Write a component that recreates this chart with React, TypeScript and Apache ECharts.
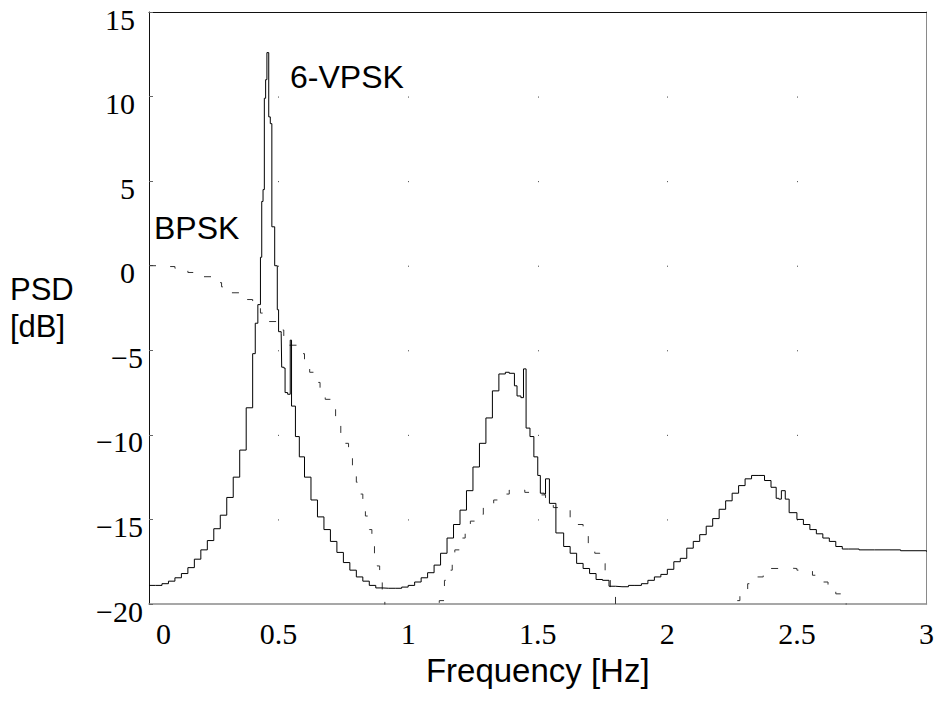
import React, { useEffect, useRef } from "react";
import * as echarts from "echarts";

// 6-VPSK power spectral density (solid staircase)
const vpskFreq = [
  0, 0.025, 0.05, 0.075, 0.1, 0.125, 0.15, 0.175, 0.2, 0.225, 0.25, 0.275, 0.3, 0.325, 0.35, 0.375,
  0.4, 0.41, 0.42, 0.43, 0.435, 0.44, 0.445, 0.45, 0.455, 0.462, 0.468, 0.474, 0.485, 0.495, 0.5,
  0.51, 0.512, 0.52, 0.525, 0.535, 0.545, 0.55, 0.565, 0.58, 0.6, 0.625, 0.65, 0.675, 0.7, 0.725,
  0.75, 0.775, 0.8, 0.825, 0.85, 0.875, 0.9, 0.925, 0.95, 0.975, 1.0, 1.025, 1.05, 1.075, 1.1,
  1.125, 1.15, 1.175, 1.2, 1.225, 1.25, 1.275, 1.3, 1.325, 1.35, 1.375, 1.39, 1.41, 1.42, 1.435,
  1.445, 1.455, 1.47, 1.485, 1.5, 1.51, 1.525, 1.53, 1.545, 1.57, 1.6, 1.625, 1.65, 1.675, 1.7,
  1.725, 1.75, 1.775, 1.8, 1.825, 1.85, 1.875, 1.9, 1.925, 1.95, 1.975, 2.0, 2.025, 2.05, 2.075,
  2.1, 2.125, 2.15, 2.175, 2.2, 2.225, 2.25, 2.275, 2.3, 2.325, 2.35, 2.375, 2.4, 2.42, 2.43,
  2.44, 2.455, 2.47, 2.5, 2.525, 2.55, 2.575, 2.6, 2.625, 2.65, 2.675, 2.7, 2.74, 2.8, 2.9, 3.0,
];
const vpskPsd = [
  -18.9, -18.9, -18.8, -18.65, -18.45, -18.2, -17.85, -17.35, -16.8, -16.25, -15.55, -14.75, -13.7,
  -12.5, -10.9, -8.4, -5.2, -3.4, -2.3, 0.5, 3.8, 4.5, 9.9, 11.0, 12.6, 8.8, 8.4, 2.3, 0.0, -2.6,
  -3.9, -4.0, -6.0, -6.05, -7.5, -7.6, -4.4, -8.3, -10.1, -11.3, -12.5, -13.85, -14.85, -15.6,
  -16.3, -16.95, -17.55, -18.0, -18.4, -18.65, -18.9, -19.05, -19.07, -19.07, -19.07, -19.0, -18.9,
  -18.7, -18.45, -18.15, -17.7, -17.0, -16.1, -15.3, -14.45, -13.3, -11.9, -10.5, -9.0, -7.4, -6.4,
  -6.3, -6.36, -7.1, -7.7, -7.8, -6.1, -9.6, -10.1, -11.3, -12.4, -13.45, -13.5, -12.6, -14.05,
  -15.8, -16.6, -17.0, -17.6, -17.9, -18.2, -18.55, -18.6, -18.95, -18.98, -18.98, -18.9, -18.9,
  -18.8, -18.6, -18.4, -18.25, -17.95, -17.5, -17.3, -16.7, -16.3, -15.9, -15.4, -14.95, -14.4,
  -13.9, -13.45, -13.0, -12.6, -12.4, -12.4, -12.7, -13.1, -13.75, -13.8, -13.3, -13.8, -14.6,
  -15.0, -15.3, -15.6, -15.85, -16.1, -16.3, -16.6, -16.75, -16.75, -16.8, -16.8, -16.85, -16.9,
];

// BPSK power spectral density (dashed staircase); values below -20 fall outside the plot
const bpskFreq = [
  0, 0.05, 0.1, 0.15, 0.2, 0.25, 0.28, 0.32, 0.36, 0.4, 0.43, 0.46, 0.49, 0.52, 0.54, 0.57, 0.6,
  0.62, 0.64, 0.66, 0.68, 0.7, 0.72, 0.74, 0.755, 0.77, 0.785, 0.8, 0.81, 0.825, 0.835, 0.85, 0.86,
  0.87, 0.88, 0.89, 0.9, 0.91, 0.95, 1.0, 1.05, 1.1, 1.12, 1.14, 1.155, 1.17, 1.18, 1.2, 1.22, 1.24,
  1.265, 1.29, 1.33, 1.36, 1.39, 1.42, 1.45, 1.5, 1.53, 1.56, 1.6, 1.625, 1.65, 1.675, 1.695, 1.72,
  1.74, 1.76, 1.78, 1.8, 1.82, 1.9, 2.0, 2.1, 2.2, 2.24, 2.26, 2.28, 2.31, 2.34, 2.37, 2.4, 2.43,
  2.46, 2.5, 2.53, 2.56, 2.59, 2.62, 2.65, 2.67, 2.69, 2.72, 2.8, 2.9, 3.0,
];
const bpskPsd = [
  0.0, -0.05, -0.15, -0.4, -0.65, -1.0, -1.25, -1.6, -2.0, -2.4, -2.8, -3.3, -3.8, -4.3, -4.7, -5.2,
  -5.75, -6.3, -6.9, -7.4, -7.9, -8.5, -9.2, -9.9, -10.5, -11.2, -12.0, -12.8, -13.5, -14.2, -14.8,
  -15.6, -16.4, -17.0, -17.75, -18.6, -19.6, -22, -26, -30, -27, -23, -19.8, -18.6, -18.0, -17.3,
  -16.8, -16.1, -15.6, -15.1, -14.7, -14.2, -13.85, -13.5, -13.26, -13.26, -13.4, -13.55, -13.9,
  -14.3, -14.45, -14.9, -15.3, -15.9, -16.4, -17.0, -17.6, -18.4, -19.3, -20.5, -23, -30, -33, -30,
  -23, -20.3, -19.8, -19.3, -18.8, -18.4, -18.1, -17.9, -17.87, -17.9, -18.0, -18.05, -18.3, -18.7,
  -19.0, -19.4, -19.8, -21, -25, -28, -26, -25,
];

const seriesNames = ["6-VPSK", "BPSK"];
const xAxisTitle = "Frequency [Hz]";
const yAxisTitle = "PSD\n[dB]";

const X_MIN = 0;
const X_MAX = 3;
const X_STEP = 0.5;
const Y_MIN = -20;
const Y_MAX = 15;
const Y_STEP = 5;

const GRID = { left: 149, top: 12, width: 781, height: 592 };

export default function App() {
  const ref = useRef<HTMLDivElement>(null);

  useEffect(() => {
    if (!ref.current) return;
    const chart = echarts.init(ref.current, undefined, { renderer: "svg" });
    const sans = "'Liberation Sans', Arial, sans-serif";
    const serif = "'Liberation Serif', 'Times New Roman', serif";
    const pxPerY = GRID.height / (Y_MAX - Y_MIN);
    const dotGap = pxPerY * Y_STEP - 1;

    const vpskData = vpskFreq.map((f, i) => [f, vpskPsd[i]]);
    const bpskData = bpskFreq.map((f, i) => [f, bpskPsd[i]]);

    chart.setOption({
      animation: false,
      backgroundColor: "#ffffff",
      grid: { ...GRID, containLabel: false },
      xAxis: [
        {
          type: "value",
          min: X_MIN,
          max: X_MAX,
          interval: X_STEP,
          name: xAxisTitle,
          nameLocation: "middle",
          nameGap: 50,
          nameTextStyle: { fontFamily: sans, fontSize: 33, color: "#000" },
          axisLine: { show: true, onZero: false, lineStyle: { color: "#8a8a8a", width: 1.5 } },
          axisTick: { show: false },
          axisLabel: {
            margin: 14,
            fontFamily: serif,
            fontSize: 30,
            color: "#000",
            alignMinLabel: "left",
            formatter: (v: number) => (v === 0 ? "{z|0}" : String(v)),
            rich: { z: { fontFamily: serif, fontSize: 30, color: "#000", padding: [0, 0, 0, 7] } },
          },
          splitLine: {
            show: true,
            lineStyle: { color: "#444", width: 1, type: [1, dotGap] },
          },
        },
        {
          type: "value",
          position: "top",
          min: X_MIN,
          max: X_MAX,
          axisLine: { show: true, onZero: false, lineStyle: { color: "#111", width: 1 } },
          axisTick: { show: false },
          axisLabel: { show: false },
          splitLine: { show: false },
        },
      ],
      yAxis: [
        {
          type: "value",
          min: Y_MIN,
          max: Y_MAX,
          interval: Y_STEP,
          name: yAxisTitle,
          nameLocation: "middle",
          nameRotate: 0,
          nameGap: 139,
          nameTextStyle: {
            fontFamily: sans,
            fontSize: 31,
            color: "#000",
            align: "left",
            verticalAlign: "middle",
            lineHeight: 37,
          },
          axisLine: { show: true, onZero: false, lineStyle: { color: "#111", width: 1 } },
          axisTick: { show: true, inside: true, length: 4, lineStyle: { color: "#666" } },
          axisLabel: {
            margin: 6,
            fontFamily: serif,
            fontSize: 30,
            color: "#000",
            padding: [14, 0, 0, 0],
            formatter: (v: number) => (v < 0 ? "{n|\u2212" + Math.abs(v) + "}" : "{p|" + v + "}"),
            rich: {
              n: { fontFamily: serif, fontSize: 30, color: "#000" },
              p: { fontFamily: serif, fontSize: 30, color: "#000", padding: [0, 8, 0, 0] },
            },
          },
          splitLine: { show: false },
        },
        {
          type: "value",
          position: "right",
          min: Y_MIN,
          max: Y_MAX,
          axisLine: { show: true, onZero: false, lineStyle: { color: "#8a8a8a", width: 1 } },
          axisTick: { show: false },
          axisLabel: { show: false },
          splitLine: { show: false },
        },
      ],
      series: [
        {
          name: seriesNames[0],
          type: "line",
          data: vpskData,
          step: "end",
          symbol: "none",
          clip: true,
          lineStyle: { color: "#000", width: 1 },
          z: 3,
        },
        {
          name: seriesNames[1],
          type: "line",
          data: bpskData,
          step: "end",
          symbol: "none",
          clip: true,
          lineStyle: { color: "#333", width: 1, type: [7, 15] },
          z: 2,
        },
      ],
      graphic: [
        {
          type: "text",
          left: 290,
          top: 61,
          style: { text: seriesNames[0], fontFamily: sans, fontSize: 32, fill: "#000" },
        },
        {
          type: "text",
          left: 154,
          top: 212,
          style: { text: seriesNames[1], fontFamily: sans, fontSize: 32, fill: "#000" },
        },
      ],
    });

    return () => chart.dispose();
  }, []);

  return (
    <div
      ref={ref}
      style={{ position: "fixed", left: 0, top: 0, width: 937, height: 716, background: "#fff" }}
    />
  );
}
